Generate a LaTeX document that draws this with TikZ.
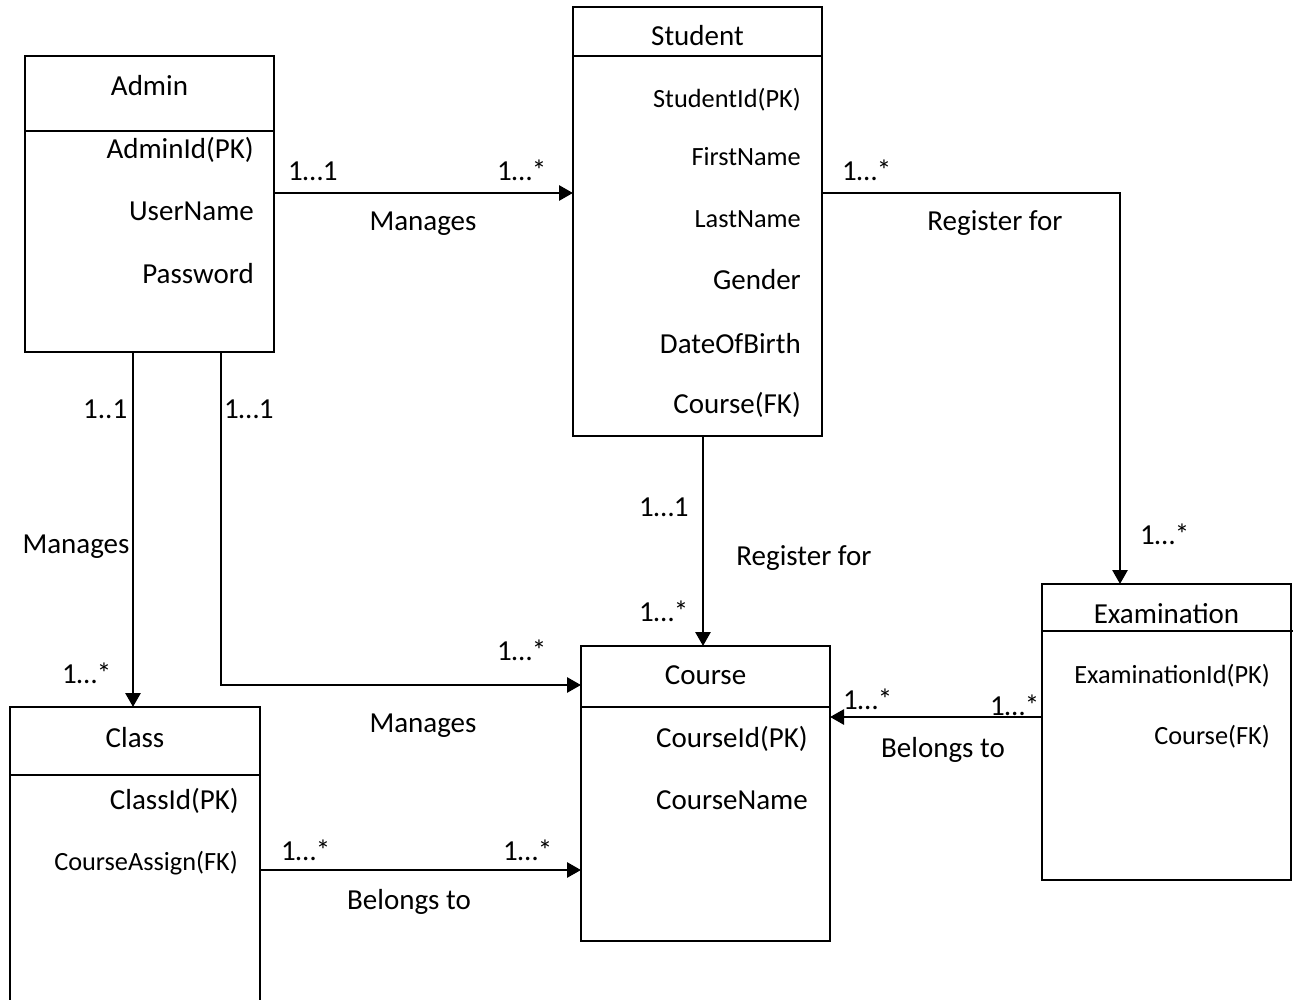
\documentclass[tikz,border=0pt]{standalone}
\usepackage{fontspec}
\setmainfont{Carlito}
\usetikzlibrary{arrows.meta}
\begin{document}
\begin{tikzpicture}[x=1pt,y=-1pt,
  box/.style={draw, line width=1.7pt, inner sep=0pt, outer sep=0pt, anchor=north west},
  divider/.style={line width=1.7pt},
  arr/.style={line width=2.8pt, -{Triangle[length=14pt,width=15pt]}},
  big/.style={font=\fontsize{29}{34}\selectfont, inner sep=0pt},
  small/.style={font=\fontsize{26.3}{31}\selectfont, inner sep=0pt},
  lbl/.style={big, anchor=base west},
  mid/.style={big, anchor=base},
  attr/.style={anchor=base east},
]
\useasboundingbox (0,0) rectangle (1297,1000);

% boxes
\node[box, minimum width=249pt, minimum height=296pt] (admin) at (25,56) {};
\node[box, minimum width=249pt, minimum height=429pt] (student) at (573,7) {};
\node[box, minimum width=250pt, minimum height=300pt] (class) at (10,707) {};
\node[box, minimum width=249pt, minimum height=295pt] (course) at (581,646) {};
\node[box, minimum width=249pt, minimum height=296pt] (exam) at (1042,584) {};

% dividers
\draw[divider] (admin.west |- 0,131) -- (admin.east |- 0,131);
\draw[divider] (student.west |- 0,56) -- (student.east |- 0,56);
\draw[divider] (class.west |- 0,775) -- (class.east |- 0,775);
\draw[divider] (course.west |- 0,707) -- (course.east |- 0,707);
\draw[divider] (exam.west |- 0,631) -- (1293,631);

% Admin text
\node[mid] (tadmin) at (149.5,96) {Admin};
\node[big, attr] (a1) at (254,159) {AdminId(PK)};
\node[big, attr] (a2) at (254,221) {UserName};
\node[big, attr] (a3) at (254,283) {Password};

% Student text
\node[mid] (tstudent) at (697.5,46) {Student};
\node[small, attr] (s1) at (801,108) {StudentId(PK)};
\node[small, attr] (s2) at (801,166) {FirstName};
\node[small, attr] (s3) at (801,228) {LastName};
\node[big, attr] (s4) at (801,289) {Gender};
\node[big, attr] (s5) at (801,353) {DateOfBirth};
\node[big, attr] (s6) at (801,413) {Course(FK)};

% Class text
\node[mid] (tclass) at (135,747) {Class};
\node[big, attr] (c1) at (239,809) {ClassId(PK)};
\node[small, attr] (c2) at (238,870) {CourseAssign(FK)};

% Course text
\node[mid] (tcourse) at (705.5,684) {Course};
\node[big, anchor=base west] (co1) at (656,747) {CourseId(PK)};
\node[big, anchor=base west] (co2) at (656,809) {CourseName};

% Examination text
\node[mid] (texam) at (1166.5,623) {Examination};
\node[small, attr] (e1) at (1270,683) {ExaminationId(PK)};
\node[small, attr] (e2) at (1270,744) {Course(FK)};

% connectors
\draw[arr] (admin.east |- 0,193) -- (student.west |- 0,193);
\draw[arr] (student.east |- 0,193) -| (exam.north -| 1120,0);
\draw[arr] (student.south -| 703,0) -- (course.north -| 703,0);
\draw[arr] (admin.south -| 133,0) -- (class.north -| 133,0);
\draw[arr] (admin.south -| 221,0) |- (course.west |- 0,685);
\draw[arr] (class.east |- 0,870) -- (course.west |- 0,870);
\draw[arr] (exam.west |- 0,717) -- (course.east |- 0,717);

% connector labels
\node[lbl] (m1) at (288,181) {1…1};
\node[lbl] (m2) at (497,181) {1…*};
\node[mid] (l1) at (423,231) {Manages};

\node[lbl] (m3) at (842,181) {1…*};
\node[mid] (l2) at (995,231) {Register for};
\node[lbl] (m4) at (1140,544) {1…*};

\node[lbl] (m5) at (639,516) {1…1};
\node[mid] (l3) at (804,565) {Register for};
\node[lbl] (m6) at (639,621) {1…*};

\node[lbl] (m7) at (83,418) {1..1};
\node[lbl] (m8) at (224,418) {1…1};
\node[mid] (l4) at (76,553) {Manages};
\node[lbl] (m9) at (62,683) {1…*};

\node[lbl] (m10) at (497,660) {1…*};
\node[mid] (l5) at (423,732) {Manages};

\node[lbl] (m11) at (281,860) {1…*};
\node[lbl] (m12) at (503,860) {1…*};
\node[mid] (l6) at (409,909) {Belongs to};

\node[lbl] (m13) at (843,709) {1…*};
\node[lbl] (m14) at (990,715) {1…*};
\node[mid] (l7) at (943,757) {Belongs to};
\end{tikzpicture}
\end{document}
